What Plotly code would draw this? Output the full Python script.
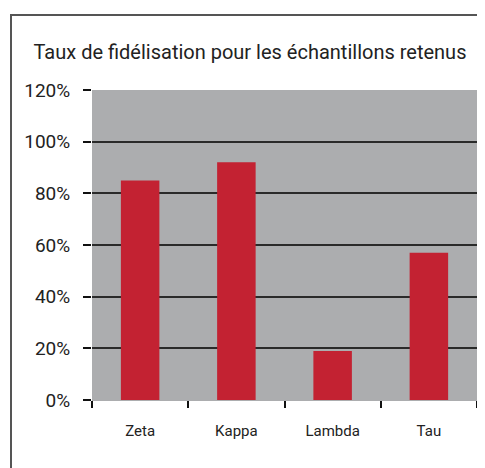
import plotly.graph_objects as go

categories = ["Zeta", "Kappa", "Lambda", "Tau"]
values = [85, 92, 19, 57]
y_ticks = [0, 20, 40, 60, 80, 100, 120]
y_tick_labels = ["0%", "20%", "40%", "60%", "80%", "100%", "120%"]
title_text = "Taux de fidélisation pour les échantillons retenus"

OFF = 8  # default page body margin
W, H = 485 - OFF, 468 - OFF
L = 92 - OFF
T = 90 - OFF
R = W - (477 - OFF)
B = H - (400 - OFF)
pw, ph = W - L - R, H - T - B

FONT = "Roboto, Liberation Sans, Arial, sans-serif"

fig = go.Figure(go.Bar(
    x=categories, y=values,
    marker=dict(color="#C32232", line=dict(width=0)),
    width=0.4,
))

def px_x(px):
    return (px - OFF - L) / pw

def px_y(py):
    return 1 - (py - OFF - T) / ph

fig.update_layout(
    width=W, height=H,
    margin=dict(l=L, r=R, t=T, b=B),
    paper_bgcolor="white",
    plot_bgcolor="#ACADAF",
    font=dict(family=FONT, color="#222222"),
    showlegend=False,
    bargap=0.6,
    title=dict(
        text=title_text,
        x=(250 - OFF) / W, xanchor="center", xref="container",
        y=1 - (52 - OFF) / H, yanchor="middle", yref="container",
        font=dict(size=20, family=FONT, color="#222222"),
    ),
    xaxis=dict(
        type="category",
        tickson="boundaries",
        ticks="outside", ticklen=7, tickcolor="#111111", tickwidth=1.5,
        showgrid=False, showline=False, zeroline=False,
        tickfont=dict(size=15, family=FONT, color="#222222"),
        ticklabelstandoff=20,
    ),
    yaxis=dict(
        range=[0, 120],
        tickvals=y_ticks, ticktext=y_tick_labels,
        ticks="outside", ticklen=8, tickcolor="#111111", tickwidth=1.5,
        showgrid=True, gridcolor="#2a2a2a", gridwidth=1.5,
        zeroline=True, zerolinecolor="#ACADAF", zerolinewidth=2,
        showline=False,
        tickfont=dict(size=19, family=FONT, color="#222222"),
        ticklabelstandoff=9,
    ),
    shapes=[dict(
        type="rect", xref="paper", yref="paper",
        x0=px_x(11), x1=px_x(500), y0=px_y(490), y1=px_y(15),
        line=dict(color="#555555", width=2), fillcolor="rgba(0,0,0,0)",
        layer="above",
    )],
)

fig.write_html("out.html")
